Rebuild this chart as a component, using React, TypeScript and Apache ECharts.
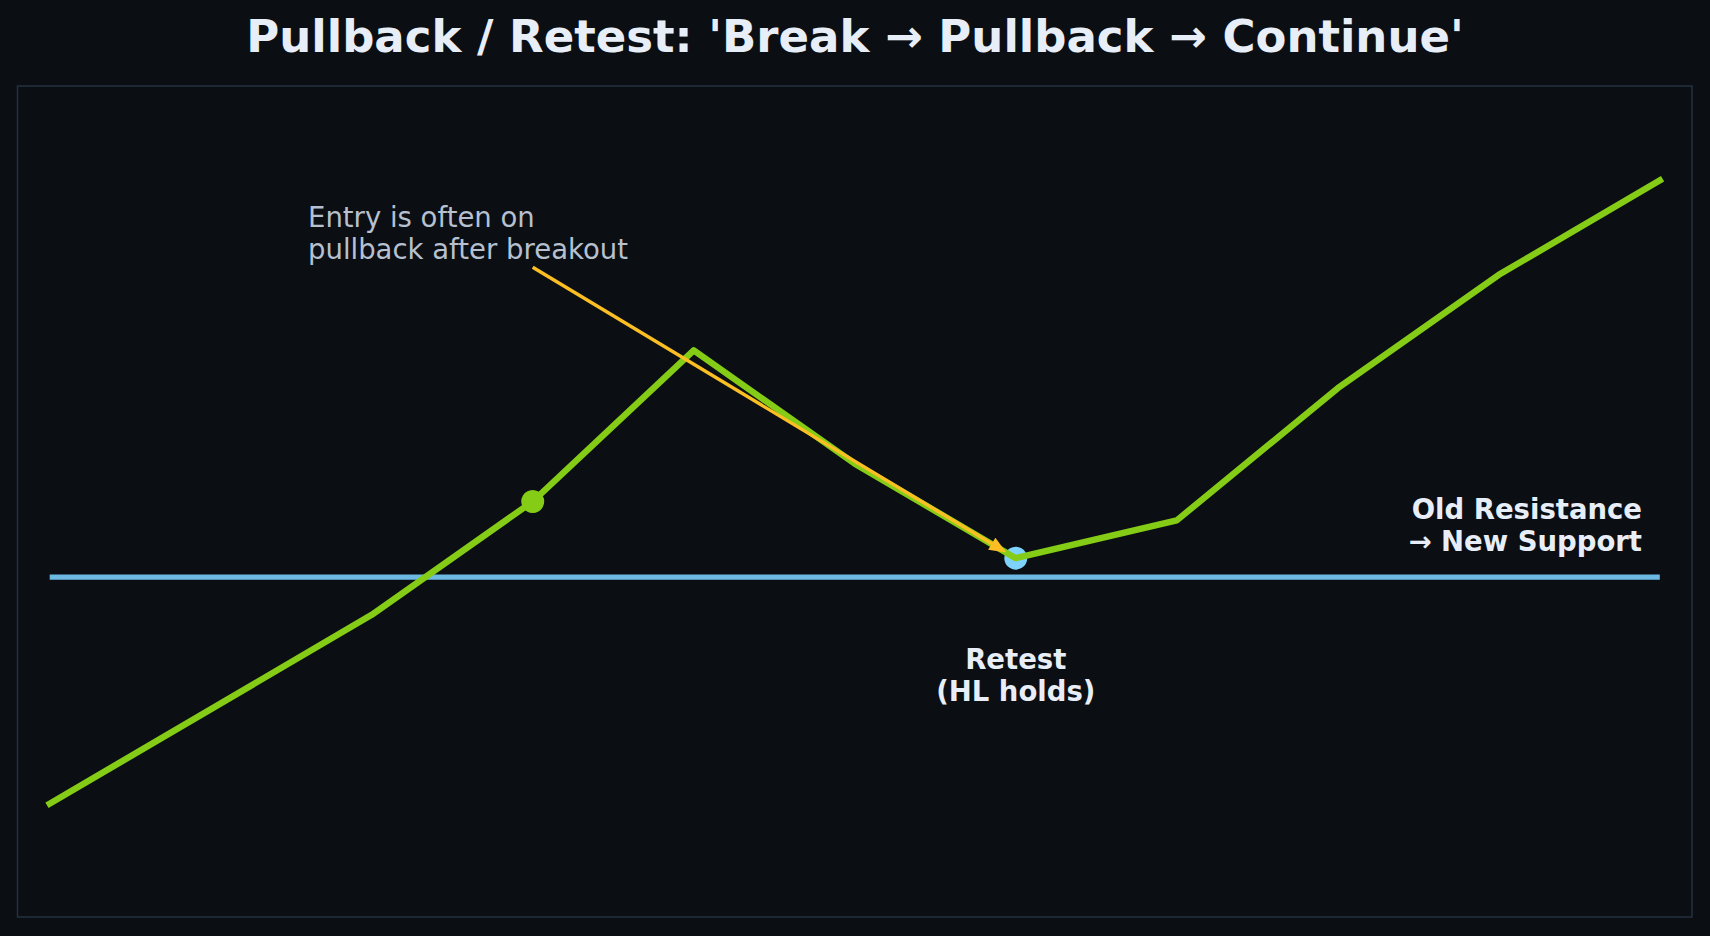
import React, { useEffect, useRef } from "react";
import * as echarts from "echarts";

// price path (x = bar index, y = price)
const xs = [0, 2, 3, 4, 5, 6, 7, 8, 9, 10];
const prices = [94, 99, 102, 106, 103, 100.5, 101.5, 105, 108, 110.5];

// old resistance -> new support level
const level = 100;
const levelFrom = 0;
const levelTo = 10;

// highlighted points
const breakoutPoint = [3, 102];
const retestPoint = [6, 100.5];

// where the entry arrow starts
const arrowFrom = [3, 108.2];

const FONT = "DejaVu Sans";
const BG = "#0b0e13";
const GREEN = "#84cc16";
const TEXT = "#e8eef7";

const App: React.FC = () => {
  const chartRef = useRef<HTMLDivElement>(null);

  useEffect(() => {
    const chart = echarts.init(chartRef.current!, undefined, { renderer: "svg" });

    chart.setOption({
      animation: false,
      backgroundColor: BG,
      title: {
        text: "Pullback / Retest: 'Break → Pullback → Continue'",
        left: "center",
        top: 10,
        padding: 0,
        textStyle: {
          fontFamily: FONT,
          fontSize: 45,
          fontWeight: "bold",
          color: TEXT,
          lineHeight: 53,
        },
      },
      grid: {
        left: 17.5,
        top: 86,
        width: 1674.5,
        height: 831,
        show: true,
        borderColor: "#263140",
        borderWidth: 1.5,
        backgroundColor: "transparent",
      },
      xAxis: {
        type: "value",
        min: -0.2,
        max: 10.2,
        axisLine: { show: false },
        axisTick: { show: false },
        axisLabel: { show: false },
        splitLine: { show: false },
      },
      yAxis: {
        type: "value",
        min: 91,
        max: 113,
        axisLine: { show: false },
        axisTick: { show: false },
        axisLabel: { show: false },
        splitLine: { show: false },
      },
      series: [
        {
          type: "line",
          z: 1,
          symbol: "none",
          data: [
            [levelFrom, level],
            [levelTo, level],
          ],
          lineStyle: { color: "#6cb9e4", width: 5.2, cap: "butt" },
        },
        {
          type: "scatter",
          z: 2,
          symbolSize: 23,
          data: [retestPoint],
          itemStyle: { color: "#7dd3fc", opacity: 1 },
        },
        {
          type: "line",
          z: 3,
          symbol: "none",
          data: xs.map((x, i) => [x, prices[i]]),
          lineStyle: { color: GREEN, width: 6.4, cap: "square", join: "round" },
        },
        {
          type: "scatter",
          z: 4,
          symbolSize: 23,
          data: [breakoutPoint],
          itemStyle: { color: GREEN, opacity: 1 },
        },
      ],
    });

    // arrow from the note to the retest point
    const p0 = chart.convertToPixel({ gridIndex: 0 }, arrowFrom) as number[];
    const p1 = chart.convertToPixel({ gridIndex: 0 }, retestPoint) as number[];
    const dx = p1[0] - p0[0];
    const dy = p1[1] - p0[1];
    const len = Math.sqrt(dx * dx + dy * dy);
    const ux = dx / len;
    const uy = dy / len;
    const tip = [p1[0] - ux * 11, p1[1] - uy * 11];
    const base = [tip[0] - ux * 17, tip[1] - uy * 17];
    const nx = -uy;
    const ny = ux;

    chart.setOption({
      graphic: [
        {
          type: "line",
          z: 100,
          shape: { x1: p0[0], y1: p0[1], x2: base[0] + ux * 4, y2: base[1] + uy * 4 },
          style: { stroke: "#fbbf24", lineWidth: 3.4 },
        },
        {
          type: "polygon",
          z: 100,
          shape: {
            points: [
              tip,
              [base[0] + nx * 7, base[1] + ny * 7],
              [base[0] - nx * 7, base[1] - ny * 7],
            ],
          },
          style: { fill: "#fbbf24" },
        },
        {
          type: "text",
          z: 100,
          left: 308,
          top: 200.5,
          style: {
            text: "Entry is often on\npullback after breakout",
            font: `27.5px ${FONT}`,
            fill: "#b6c0cf",
            lineHeight: 32,
          },
        },
        {
          type: "text",
          z: 100,
          x: 1642,
          y: 492.5,
          style: {
            text: "Old Resistance\n→ New Support",
            font: `bold 27.5px ${FONT}`,
            fill: TEXT,
            lineHeight: 32,
            align: "right",
            verticalAlign: "top",
          },
        },
        {
          type: "text",
          z: 100,
          x: p1[0],
          y: 642.5,
          style: {
            text: "Retest\n(HL holds)",
            font: `bold 27.5px ${FONT}`,
            fill: TEXT,
            lineHeight: 32,
            align: "center",
            verticalAlign: "top",
          },
        },
      ],
    });

    return () => {
      chart.dispose();
    };
  }, []);

  return (
    <div
      ref={chartRef}
      style={{ position: "absolute", left: 0, top: 0, width: "1710px", height: "936px" }}
    ></div>
  );
};

export default App;
